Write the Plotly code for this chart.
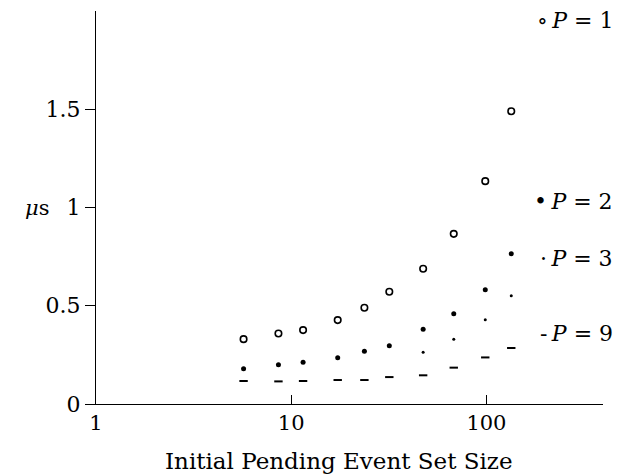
import plotly.graph_objects as go

sizes = [5.7, 8.6, 11.5, 17.3, 23.7, 31.8, 47.4, 68.0, 98.6, 134.0]
p1 = [0.330, 0.359, 0.376, 0.427, 0.490, 0.571, 0.688, 0.866, 1.134, 1.490]
p2 = [0.179, 0.200, 0.212, 0.235, 0.269, 0.297, 0.380, 0.459, 0.581, 0.764]
sizes_p3 = [47.4, 68.0, 98.6, 134.0]
p3 = [0.263, 0.330, 0.429, 0.551]
p9 = [0.117, 0.115, 0.117, 0.122, 0.122, 0.137, 0.146, 0.185, 0.237, 0.285]

x_ticks = [1, 10, 100]
y_ticks = [0, 0.5, 1, 1.5]
y_ticktext = ["0", "0.5", "1", "1.5"]
labels = ["\u2218\u2009<i>P</i> = 1", "\u2022\u2009<i>P</i> = 2",
          "\u00b7\u2009<i>P</i> = 3", "-\u2009<i>P</i> = 9"]
label_y = [1.952, 1.032, 0.742, 0.361]
x_title = "Initial Pending Event Set Size"

SERIF = "DejaVu Serif, Liberation Serif, serif"

fig = go.Figure()
fig.add_trace(go.Scatter(x=sizes, y=p1, mode="markers", name="P = 1",
                         marker=dict(symbol="circle-open", size=6.5, color="black",
                                     line=dict(width=1.6, color="black"))))
fig.add_trace(go.Scatter(x=sizes, y=p2, mode="markers", name="P = 2",
                         marker=dict(symbol="circle", size=5, color="black")))
fig.add_trace(go.Scatter(x=sizes_p3, y=p3, mode="markers", name="P = 3",
                         marker=dict(symbol="circle", size=3, color="black")))
fig.add_trace(go.Scatter(x=sizes, y=p9, mode="markers", name="P = 9",
                         marker=dict(symbol="line-ew", size=6, color="black",
                                     line=dict(width=2, color="black"))))

for t, yy in zip(labels, label_y):
    fig.add_annotation(text=t, xref="paper", yref="y", x=1.0237, y=yy,
                       xanchor="right", yanchor="middle", showarrow=False,
                       font=dict(family=SERIF, size=22, color="black"))

fig.add_annotation(text="<i>\u03bc</i>s", xref="paper", yref="y", x=-0.117, y=1.0,
                   xanchor="center", yanchor="middle", showarrow=False,
                   font=dict(family=SERIF, size=21, color="black"))

fig.add_annotation(text=x_title, xref="paper", yref="paper", x=0.479, y=-0.146,
                   xanchor="center", yanchor="middle", showarrow=False,
                   font=dict(family=SERIF, size=23, color="black"))

fig.update_layout(
    width=624, height=468,
    margin=dict(l=88, r=29, t=3, b=72),
    paper_bgcolor="white", plot_bgcolor="white",
    showlegend=False,
    font=dict(family=SERIF, size=22, color="black"),
    xaxis=dict(type="log", range=[0, 2.597], tickvals=x_ticks,
               ticktext=[str(v) for v in x_ticks],
               ticks="inside", ticklen=9, tickwidth=1.2, tickcolor="black",
               tickfont=dict(family=SERIF, size=21, color="black"),
               showline=True, linecolor="black", linewidth=1.3,
               showgrid=False, zeroline=False),
    yaxis=dict(range=[0, 2.0], tickvals=y_ticks, ticktext=y_ticktext,
               ticks="outside", ticklen=10, tickwidth=1.2, tickcolor="black",
               tickfont=dict(family=SERIF, size=22, color="black"),
               showline=True, linecolor="black", linewidth=1.3,
               showgrid=False, zeroline=False),
)

fig.write_html("out.html")
